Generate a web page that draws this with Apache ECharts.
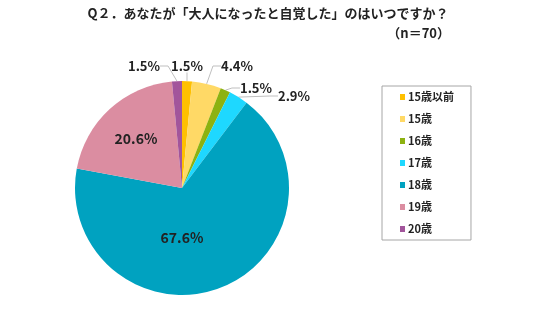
<!DOCTYPE html>
<html><head><meta charset="utf-8">
<script src="https://cdn.jsdelivr.net/npm/echarts@6/dist/echarts.min.js"></script>
<style>html,body{margin:0;padding:0;background:#fff}#c{width:536px;height:317px}</style>
</head><body><div id="c"></div>
<script>
const categories = ['15歳以前','15歳','16歳','17歳','18歳','19歳','20歳'];
const values = [1.5, 4.4, 1.5, 2.9, 67.6, 20.6, 1.5];
const colors = ['#FFC000','#FFD966','#8DB211','#1ED8FF','#00A2C0','#DB8DA1','#A2559B'];
const insideLabels = ['18歳','19歳'];
const titleText = 'Q２．あなたが「大人になったと自覚した」のはいつですか？';
const subText = '（n＝70）';
const FONT = '"Noto Sans CJK JP", "Noto Sans", sans-serif';
// label centres (layout only)
const labelPos = {0:[187,66], 1:[237,66], 2:[256,88], 3:[294,96], 4:[182,238], 5:[136,139], 6:[144,66]};

const chart = echarts.init(document.getElementById('c'), null, {renderer:'canvas'});
chart.setOption({
  animation:false,
  color: colors,
  graphic: [
    {type:'text', left:'center', top:7, style:{text:titleText, font:'bold 13px '+FONT, fill:'#222'}},
    {type:'text', right:86, top:27, style:{text:subText, font:'bold 13px '+FONT, fill:'#222'}}
  ],
  legend: {
    orient:'vertical', left:382, top:86,
    padding:[4,17,4,18],
    borderColor:'#a6a6a6', borderWidth:1,
    itemWidth:5, itemHeight:6, itemGap:8, icon:'rect',
    textStyle:{fontFamily:FONT, fontWeight:'bold', fontSize:11, color:'#222', lineHeight:14, padding:[0,0,0,-2]},
    data: categories
  },
  series: [{
    type:'pie', center:[182,188], radius:[0,107], startAngle:90, clockwise:true,
    avoidLabelOverlap:false,
    label:{show:true, position:'outside', formatter: p => p.value.toFixed(1)+'%',
      fontFamily:FONT, fontWeight:'bold', fontSize:13, color:'#222'},
    labelLine:{show:true, length:10, length2:8, lineStyle:{color:'#bfbfbf', width:1}},
    labelLayout: function(p){
      const pos = labelPos[p.dataIndex];
      if (!pos) return {};
      return {x:pos[0], y:pos[1], align:'center', verticalAlign:'middle', hideOverlap:false};
    },
    itemStyle:{borderColor:'#fff', borderWidth:0},
    data: categories.map((c,i)=>({name:c, value:values[i],
      label: insideLabels.includes(c) ? {position:'inside', fontSize:14} : undefined,
      labelLine: insideLabels.includes(c) ? {show:false} : undefined}))
  }]
});
</script></body></html>
